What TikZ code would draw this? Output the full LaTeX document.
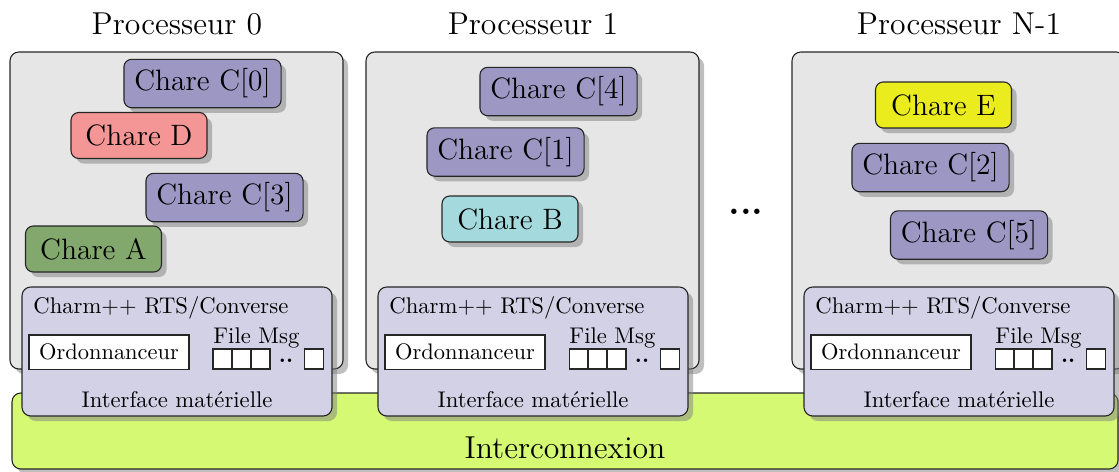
\documentclass[tikz,border=0pt]{standalone}
\usetikzlibrary{shadows}
\definecolor{procgray}{RGB}{230,230,230}
\definecolor{charec}{RGB}{157,151,196}
\definecolor{chared}{RGB}{245,150,150}
\definecolor{charea}{RGB}{131,168,109}
\definecolor{chareb}{RGB}{164,218,222}
\definecolor{charee}{RGB}{234,236,30}
\definecolor{rtscol}{RGB}{211,209,230}
\definecolor{netcol}{RGB}{213,249,115}
\begin{document}
\begin{tikzpicture}[x=0.4545pt,y=-0.4545pt,
  shad/.style={drop shadow={shadow xshift=2.3pt,shadow yshift=-2.3pt}},
  outline/.style={draw=black!85,line width=0.5pt},
  procbox/.style={outline,fill=procgray,rounded corners=4pt,shad},
  rtsbox/.style={outline,fill=rtscol,rounded corners=4pt,shad},
  netbox/.style={outline,fill=netcol,rounded corners=4pt,shad},
  chare/.style={outline,rounded corners=3.5pt,shad,font=\fontsize{13.4}{16}\selectfont,inner sep=0pt,minimum height=22pt},
  charc/.style={chare,fill=charec,minimum width=71.4pt},
  charl/.style={chare,minimum width=61.8pt,minimum height=20.9pt},
  titletext/.style={font=\fontsize{14.4}{17}\selectfont,inner sep=0pt,anchor=base},
  smalltext/.style={font=\fontsize{10.3}{12}\selectfont,inner sep=0pt},
  schedbox/.style={outline,fill=white,minimum width=72.7pt,minimum height=15.5pt,inner sep=0pt,font=\fontsize{10.2}{12}\selectfont},
  cell/.style={outline,fill=white,minimum width=8.6pt,minimum height=9.1pt,inner sep=0pt},
]
\useasboundingbox (0,0) rectangle (1119,471);
\clip (0,0) rectangle (1119,471);
% interconnect
\draw[netbox] (12,393) rectangle (1118,469);
\node[titletext] (net) at (565,458) {Interconnexion};
% processor boxes
\foreach \dx/\i/\lab in {0/0/{Processeur 0},356/1/{Processeur 1},782/2/{Processeur N-1}}{
  \begin{scope}[shift={(\dx,0)}]
    \draw[procbox] (10,52) rectangle (343,369);
    \node[titletext] (title\i) at (177,34) {\lab};
  \end{scope}
}
% chares
\node[charc] (c0) at (202.5,83.5) {Chare C[0]};
\node[charl,fill=chared] (cd) at (139,135.5) {Chare D};
\node[charc] (c3) at (224.5,197.5) {Chare C[3]};
\node[charl,fill=charea] (ca) at (93.5,249) {Chare A};
\node[charc] (c4) at (558.5,91.5) {Chare C[4]};
\node[charc] (c1) at (505.5,152) {Chare C[1]};
\node[charl,fill=chareb] (cb) at (510,219) {Chare B};
\node[charl,fill=charee] (ce) at (943.5,105) {Chare E};
\node[charc] (c2) at (930.5,167.5) {Chare C[2]};
\node[charc] (c5) at (969,235) {Chare C[5]};
\node[font=\fontsize{17}{20}\selectfont\bfseries,inner sep=0pt] (dots) at (746,212) {...};
% runtime boxes
\foreach \dx/\i in {0/0,356/1,782/2}{
  \begin{scope}[shift={(\dx,0)}]
    \draw[rtsbox] (22,287) rectangle (332,416);
    \node[smalltext,anchor=base west] (rts\i) at (33,313) {Charm++ RTS/Converse};
    \node[schedbox] (sched\i) at (109,352) {Ordonnanceur};
    \node[smalltext,anchor=base west] (fmsg\i) at (213,343) {File Msg};
    \node[cell] (qa\i) at (222.5,359) {};
    \node[cell] (qb\i) at (241.5,359) {};
    \node[cell] (qc\i) at (260.5,359) {};
    \node[font=\fontsize{10}{12}\selectfont\bfseries,inner sep=0pt] (qdots\i) at (286,361) {..};
    \node[cell] (qd\i) at (314,359) {};
    \node[smalltext,anchor=base] (hw\i) at (177,407) {Interface matérielle};
  \end{scope}
}
\end{tikzpicture}
\end{document}
